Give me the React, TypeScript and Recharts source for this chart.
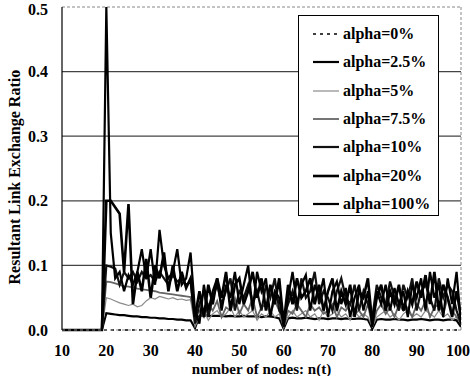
import React from 'react';
import { LineChart, Line, XAxis, YAxis, ReferenceLine } from 'recharts';

const nodes: number[] = [10,11,12,13,14,15,16,17,18,19,20,21,22,23,24,25,26,27,28,29,30,31,32,33,34,35,36,37,38,39,40,41,42,43,44,45,46,47,48,49,50,51,52,53,54,55,56,57,58,59,60,61,62,63,64,65,66,67,68,69,70,71,72,73,74,75,76,77,78,79,80,81,82,83,84,85,86,87,88,89,90,91,92,93,94,95,96,97,98,99,100];

const pre: number[] = [0,0,0,0,0,0,0,0,0,0];

const alpha0: number[] = [0,0,0,0,0,0,0,0,0,0,0,0,0,0,0,0,0,0,0,0,0,0,0,0,0,0,0,0,0,0,0,0,0,0,0,0,0,0,0,0,0,0,0,0,0,0,0,0,0,0,0,0,0,0,0,0,0,0,0,0,0,0,0,0,0,0,0,0,0,0,0,0,0,0,0,0,0,0,0,0,0,0,0,0,0,0,0,0,0,0,0];

const alpha2_5: number[] = [...pre,
  0.026,0.025,0.024,0.023,0.023,0.022,0.021,0.021,0.02,0.02,
  0.019,0.019,0.018,0.018,0.017,0.017,0.016,0.016,0.015,0.015,
  0.003,0.022,0.023,0.022,0.022,0.022,0.022,0.021,0.022,0.021,
  0.021,0.022,0.021,0.021,0.021,0.02,0.021,0.021,0.02,0.018,
  0.002,0.018,0.019,0.018,0.018,0.019,0.018,0.017,0.018,0.018,
  0.017,0.018,0.018,0.017,0.018,0.017,0.017,0.018,0.017,0.016,
  0.002,0.016,0.017,0.016,0.016,0.017,0.016,0.016,0.015,0.016,
  0.016,0.017,0.016,0.015,0.016,0.016,0.015,0.016,0.016,0.015,
  0.005];

const alpha5: number[] = [...pre,
  0.05,0.048,0.045,0.042,0.04,0.038,0.04,0.036,0.038,0.045,
  0.05,0.048,0.052,0.05,0.048,0.05,0.047,0.048,0.046,0.047,
  0.005,0.02,0.03,0.015,0.025,0.03,0.02,0.025,0.035,0.02,
  0.03,0.02,0.025,0.03,0.015,0.025,0.02,0.03,0.02,0.025,
  0.005,0.02,0.03,0.02,0.025,0.03,0.02,0.025,0.015,0.03,
  0.02,0.025,0.03,0.02,0.025,0.015,0.03,0.02,0.025,0.02,
  0.005,0.02,0.025,0.03,0.02,0.025,0.015,0.025,0.03,0.02,
  0.025,0.02,0.03,0.025,0.02,0.03,0.02,0.025,0.015,0.02,
  0.01];

const alpha7_5: number[] = [...pre,
  0.075,0.074,0.072,0.07,0.068,0.067,0.066,0.064,0.063,0.062,
  0.061,0.06,0.058,0.057,0.056,0.055,0.054,0.053,0.052,0.051,
  0.02,0.03,0.02,0.04,0.03,0.045,0.02,0.035,0.03,0.05,
  0.025,0.04,0.03,0.05,0.02,0.035,0.04,0.025,0.045,0.03,
  0.005,0.03,0.025,0.04,0.03,0.02,0.04,0.03,0.035,0.025,
  0.03,0.04,0.02,0.035,0.03,0.04,0.025,0.03,0.02,0.04,
  0.005,0.03,0.04,0.025,0.035,0.02,0.04,0.03,0.035,0.02,
  0.04,0.03,0.045,0.02,0.035,0.04,0.025,0.05,0.03,0.02,
  0.01];

const alpha10: number[] = [...pre,
  0.1,0.098,0.095,0.07,0.09,0.08,0.09,0.075,0.09,0.08,
  0.085,0.075,0.09,0.08,0.07,0.085,0.075,0.08,0.07,0.075,
  0.01,0.04,0.06,0.02,0.05,0.07,0.04,0.06,0.08,0.03,
  0.06,0.05,0.07,0.04,0.06,0.03,0.07,0.05,0.08,0.03,
  0.02,0.04,0.06,0.03,0.08,0.05,0.06,0.09,0.04,0.06,
  0.05,0.03,0.06,0.08,0.05,0.04,0.07,0.03,0.06,0.04,
  0.02,0.07,0.05,0.04,0.075,0.05,0.03,0.07,0.05,0.08,
  0.03,0.06,0.07,0.05,0.03,0.08,0.05,0.07,0.06,0.03,
  0.01];

const alpha20: number[] = [...pre,
  0.2,0.2,0.19,0.18,0.09,0.195,0.04,0.09,0.06,0.11,
  0.05,0.1,0.08,0.12,0.06,0.1,0.06,0.09,0.065,0.08,
  0.02,0.06,0.02,0.07,0.04,0.08,0.05,0.09,0.03,0.07,
  0.08,0.04,0.06,0.09,0.05,0.08,0.03,0.07,0.04,0.08,
  0.01,0.07,0.04,0.08,0.05,0.06,0.08,0.04,0.07,0.03,
  0.06,0.08,0.03,0.06,0.04,0.07,0.02,0.06,0.05,0.08,
  0.01,0.05,0.07,0.03,0.06,0.04,0.07,0.03,0.06,0.04,
  0.075,0.05,0.085,0.04,0.09,0.03,0.07,0.05,0.02,0.06,
  0.02];

const alpha100: number[] = [...pre,
  0.5,0.15,0.08,0.09,0.06,0.085,0.07,0.09,0.125,0.08,
  0.125,0.07,0.155,0.1,0.08,0.09,0.125,0.07,0.08,0.12,
  0.03,0.01,0.07,0.03,0.06,0.08,0.03,0.07,0.05,0.09,
  0.04,0.07,0.1,0.03,0.09,0.06,0.08,0.02,0.06,0.05,
  0.005,0.05,0.09,0.04,0.07,0.085,0.03,0.07,0.05,0.08,
  0.02,0.06,0.075,0.04,0.065,0.02,0.05,0.07,0.03,0.06,
  0.005,0.06,0.04,0.07,0.03,0.065,0.04,0.06,0.02,0.07,
  0.05,0.08,0.03,0.09,0.05,0.07,0.02,0.08,0.04,0.09,
  0.01];

const xTicks: number[] = [10,20,30,40,50,60,70,80,90,100];
const yTicks: number[] = [0,0.1,0.2,0.3,0.4,0.5];
const gridValues: number[] = [0.1,0.2,0.3,0.4];

const seriesNames: string[] = ['alpha=0%','alpha=2.5%','alpha=5%','alpha=7.5%','alpha=10%','alpha=20%','alpha=100%'];
const seriesKeys: string[] = ['a0','a2_5','a5','a7_5','a10','a20','a100'];
const seriesValues: number[][] = [alpha0, alpha2_5, alpha5, alpha7_5, alpha10, alpha20, alpha100];

const styles = [
  { stroke: '#000', width: 1.3, dash: '3 4' },
  { stroke: '#000', width: 2.2, dash: undefined },
  { stroke: '#8a8a8a', width: 1.2, dash: undefined },
  { stroke: '#666', width: 1.8, dash: undefined },
  { stroke: '#111', width: 2.2, dash: undefined },
  { stroke: '#000', width: 2.6, dash: undefined },
  { stroke: '#000', width: 2.2, dash: undefined },
];

const data = nodes.map((n, i) => {
  const row: Record<string, number> = { n };
  seriesKeys.forEach((k, j) => { row[k] = seriesValues[j][i]; });
  return row;
});

const font = '"Liberation Serif", "Times New Roman", serif';

const LegendBox = () => (
  <div style={{ position: 'absolute', left: 298, top: 15, border: '1px solid #000', background: '#fff', width: 141, height: 201, boxSizing: 'border-box', paddingTop: 4, fontFamily: font, fontWeight: 'bold', fontSize: 16, color: '#000' }}>
    {seriesNames.map((name, i) => (
      <div key={name} style={{ display: 'flex', alignItems: 'center', height: 28.3 }}>
        <svg width={44} height={10} style={{ display: 'block' }}>
          <line x1={14} y1={5} x2={40} y2={5} stroke={styles[i].stroke} strokeWidth={styles[i].width} strokeDasharray={styles[i].dash} />
        </svg>
        <span style={{ lineHeight: '16px' }}>{name}</span>
      </div>
    ))}
  </div>
);

export default function App() {
  return (
    <div style={{ position: 'absolute', left: 0, top: 0, width: 470, height: 376, background: '#fff' }}>
      <LineChart width={470} height={376} data={data} margin={{ top: 7, right: 9, left: 0, bottom: 0 }}>
        <XAxis
          dataKey="n"
          type="number"
          domain={[10, 100]}
          ticks={xTicks}
          axisLine={{ stroke: '#888', strokeDasharray: '3 3' }}
          tickLine={false}
          tickSize={0}
          tickMargin={15}
          height={46}
          tick={{ fill: '#000', fontFamily: font, fontWeight: 'bold', fontSize: 16 }}
          label={{ value: 'number of nodes: n(t)', position: 'insideBottom', offset: 2, fill: '#000', fontFamily: font, fontWeight: 'bold', fontSize: 15 }}
          allowDataOverflow
        />
        <YAxis
          type="number"
          domain={[0, 0.5]}
          ticks={yTicks}
          tickFormatter={(v: number) => v.toFixed(1)}
          axisLine={{ stroke: '#000', strokeWidth: 1.2 }}
          tickLine={false}
          tickSize={0}
          tickMargin={14}
          width={62}
          tick={{ fill: '#000', fontFamily: font, fontWeight: 'bold', fontSize: 16 }}
          label={{ value: 'Resultant Link Exchange Ratio', angle: -90, position: 'insideLeft', offset: 14, dy: 116, fill: '#000', fontFamily: font, fontWeight: 'bold', fontSize: 16 }}
        />
        {gridValues.map((g) => (
          <ReferenceLine key={g} y={g} stroke="#444" strokeWidth={1.2} />
        ))}
        <ReferenceLine y={0.5} stroke="#888" strokeDasharray="3 2" />
        <ReferenceLine x={100} stroke="#888" strokeDasharray="3 2" />
        {seriesKeys.map((k, i) => (
          <Line
            key={k}
            dataKey={k}
            name={seriesNames[i]}
            type="linear"
            stroke={styles[i].stroke}
            strokeWidth={styles[i].width}
            strokeDasharray={styles[i].dash}
            dot={false}
            activeDot={false}
            isAnimationActive={false}
          />
        ))}
      </LineChart>
      <LegendBox />
    </div>
  );
}
